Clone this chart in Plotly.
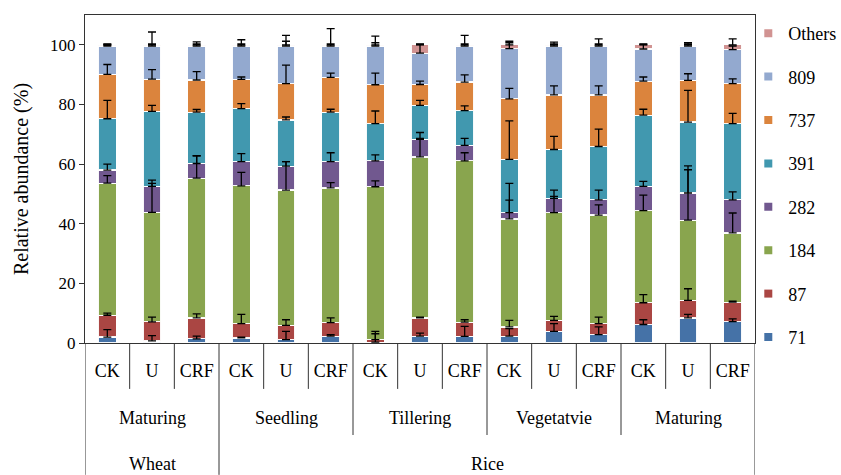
import plotly.graph_objects as go

# Treatments within each growth stage
treatments = ["CK", "U", "CRF"] * 5
stages = ["Maturing", "Seedling", "Tillering", "Vegetatvie", "Maturing"]
crops = ["Wheat", "Rice"]

# Relative abundance (%) of each T-RF per sample (15 samples, left to right)
t71 = [2.0, 0.7, 1.4, 1.7, 1.1, 2.3, 0.3, 2.3, 2.2, 2.3, 3.9, 2.8, 6.2, 8.4, 7.2]
t87 = [7.3, 6.4, 7.0, 4.8, 4.8, 4.5, 0.8, 6.1, 4.8, 3.1, 3.7, 3.7, 7.3, 5.9, 6.5]
t184 = [44.3, 36.7, 46.9, 46.2, 45.4, 45.2, 51.3, 54.0, 54.1, 36.2, 36.1, 36.4, 30.9, 26.9, 23.2]
t282 = [4.4, 8.7, 4.9, 8.1, 8.0, 8.8, 8.7, 5.9, 5.2, 2.1, 4.8, 5.1, 8.1, 9.1, 11.1]
t391 = [17.2, 25.2, 17.2, 17.8, 15.5, 16.6, 12.5, 11.4, 11.6, 17.9, 16.4, 17.9, 23.9, 23.8, 25.6]
t737 = [14.9, 10.8, 10.8, 9.8, 12.2, 11.7, 13.0, 7.0, 9.6, 20.3, 18.3, 17.3, 11.4, 14.0, 13.4]
t809 = [9.5, 11.1, 11.4, 11.2, 12.6, 10.5, 13.0, 10.5, 12.1, 16.8, 16.4, 16.4, 10.8, 11.5, 11.4]
others = [0.4, 0.4, 0.4, 0.4, 0.4, 0.4, 0.4, 2.8, 0.4, 1.3, 0.4, 0.4, 1.4, 0.4, 1.6]

# Standard deviations (upper error bars)
e71 = [2.5, 1.8, 0.9, 0.3, 2.8, 0.5, 2.8, 1.0, 3.4, 2.5, 2.6, 2.6, 1.6, 1.2, 0.9]
e87 = [0.7, 1.6, 1.4, 3.1, 1.9, 1.6, 2.8, 0.3, 0.8, 2.2, 1.3, 2.2, 2.7, 3.9, 0.3]
e184 = [2.5, 9.7, 7.5, 4.5, 9.5, 1.8, 2.0, 6.2, 2.7, 6.3, 5.5, 3.4, 5.2, 18.2, 6.7]
e282 = [2.0, 2.1, 2.6, 2.7, 1.5, 3.0, 2.0, 2.3, 2.3, 9.8, 2.8, 3.3, 1.7, 7.8, 2.7]
e391 = [6.2, 2.0, 0.9, 1.7, 1.0, 1.0, 4.2, 1.7, 1.6, 12.9, 4.4, 5.8, 2.0, 10.6, 3.4]
e737 = [3.3, 3.2, 2.8, 0.8, 6.2, 1.4, 3.9, 1.1, 2.4, 3.5, 3.0, 3.0, 1.4, 2.2, 1.6]
e809 = [0.5, 4.7, 1.4, 2.1, 1.6, 5.8, 1.1, 2.9, 3.6, 2.0, 1.3, 2.4, 1.5, 1.1, 1.2]
eoth = [0.3, 0.3, 0.3, 0.3, 3.2, 0.3, 2.9, 0.3, 0.3, 1.2, 0.3, 0.3, 0.3, 0.3, 2.0]

series_names = ["71", "87", "184", "282", "391", "737", "809", "Others"]
series_vals = [t71, t87, t184, t282, t391, t737, t809, others]
series_errs = [e71, e87, e184, e282, e391, e737, e809, eoth]
colors = ["#4572A7", "#AA4643", "#89A54E", "#71588F",
          "#4198AF", "#DB843D", "#93A9CF", "#D19392"]

FONT = "Liberation Serif, Times New Roman, serif"
xpos = list(range(len(treatments)))

fig = go.Figure()

# stacked bars
for name, vals, col in zip(series_names, series_vals, colors):
    fig.add_trace(go.Bar(
        x=xpos, y=vals, name=name, marker_color=col,
        marker_line=dict(color="rgba(255,255,255,0.95)", width=1.2),
        showlegend=False, legendgroup=name,
    ))

# upper error bars at the top of each stacked segment, drawn above all bars
cum = [0.0] * len(xpos)
for name, vals, errs in zip(series_names, series_vals, series_errs):
    cum = [c + v for c, v in zip(cum, vals)]
    fig.add_trace(go.Scatter(
        x=xpos, y=cum, mode="markers", marker=dict(size=1, opacity=0),
        error_y=dict(type="data", symmetric=False, array=errs,
                     arrayminus=[0] * len(errs), color="black",
                     thickness=1.3, width=4),
        showlegend=False, hoverinfo="skip",
    ))

# small square legend keys, top entry = Others
for name, col in reversed(list(zip(series_names, colors))):
    fig.add_trace(go.Scatter(
        x=[None], y=[None], mode="markers", name=name, legendgroup=name,
        marker=dict(symbol="square", size=8, color=col),
    ))

# Multi-level category axis: separators and group labels
line_col = "#333333"
shapes = []
y_row1, y_row2, y_row3 = -0.140, -0.2805, -0.402
for i in range(len(treatments) - 1):
    xb = i + 0.5
    if xb == 2.5:
        y_end = y_row3
    elif xb in (5.5, 8.5, 11.5):
        y_end = y_row2
    else:
        y_end = y_row1
    shapes.append(dict(type="line", xref="x", yref="paper", x0=xb, x1=xb,
                       y0=0, y1=y_end, line=dict(color=line_col, width=1)))
for xb in (-0.5, 14.5):
    shapes.append(dict(type="line", xref="x", yref="paper", x0=xb, x1=xb,
                       y0=0, y1=y_row3, line=dict(color=line_col, width=1)))

annotations = []
for k, st in enumerate(stages):
    annotations.append(dict(x=3 * k + 1, y=-0.229, xref="x", yref="paper",
                            text=st, showarrow=False, yanchor="middle",
                            font=dict(family=FONT, size=18, color="black")))
annotations.append(dict(x=1, y=-0.369, xref="x", yref="paper", text=crops[0],
                        showarrow=False, yanchor="middle",
                        font=dict(family=FONT, size=18, color="black")))
annotations.append(dict(x=8.5, y=-0.369, xref="x", yref="paper", text=crops[1],
                        showarrow=False, yanchor="middle",
                        font=dict(family=FONT, size=18, color="black")))

fig.update_layout(
    width=841, height=475,
    margin=dict(l=85, r=86, t=15, b=132, autoexpand=False),
    barmode="stack", bargap=0.6,
    plot_bgcolor="white", paper_bgcolor="white",
    font=dict(family=FONT, size=17, color="black"),
    shapes=shapes, annotations=annotations,
    legend=dict(x=0.99, xanchor="left", xref="paper", y=1.0, yanchor="top",
                traceorder="grouped", tracegroupgap=17, maxheight=470,
                font=dict(family=FONT, size=18, color="black"),
                itemwidth=30, bgcolor="rgba(0,0,0,0)"),
)
fig.update_xaxes(
    range=[-0.5, 14.5], tickvals=xpos, ticktext=treatments,
    ticks="", showline=True, linecolor=line_col, linewidth=1, mirror=True,
    showgrid=False, zeroline=False, ticklabelstandoff=11,
    tickfont=dict(family=FONT, size=18, color="black"),
)
fig.update_yaxes(
    range=[0, 110], tickvals=[0, 20, 40, 60, 80, 100],
    ticks="outside", ticklen=5, tickcolor=line_col,
    showline=True, linecolor=line_col, linewidth=1, mirror=True,
    showgrid=False, zeroline=False,
    title=dict(text="Relative abundance (%)", standoff=16,
               font=dict(family=FONT, size=20, color="black")),
    tickfont=dict(family=FONT, size=17, color="black"),
)

fig.write_html("out.html")
